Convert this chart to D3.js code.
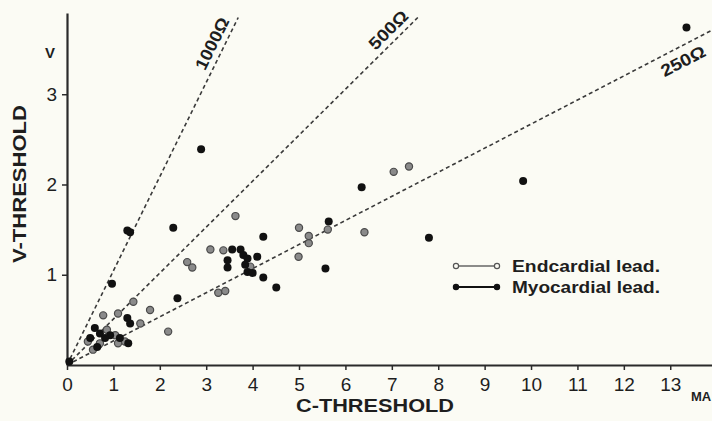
<!DOCTYPE html>
<html>
<head>
<meta charset="utf-8">
<script src="https://cdn.jsdelivr.net/npm/d3@7"></script>
<style>
  body { margin: 0; background: #fbfbf4; }
  svg { display: block; }
  text { fill: #1e1e1e; }
</style>
</head>
<body>
<svg></svg>
<script>
var width = 712;
var height = 421;

// C-threshold (mA), V-threshold (V)
var endocardial = [
  [3.63,1.65],[5.0,1.52],[5.21,1.43],[5.21,1.35],[5.62,1.50],[4.99,1.20],
  [6.41,1.47],[7.04,2.14],[7.37,2.20],[3.09,1.28],[3.37,1.27],[2.59,1.14],
  [2.70,1.08],[3.26,0.80],[3.41,0.82],[3.95,1.09],[1.79,0.61],[1.43,0.70],
  [0.78,0.55],[2.18,0.37],[1.58,0.46],[0.45,0.26],[0.86,0.39],[1.04,0.33],
  [1.10,0.24],[1.25,0.26],[0.71,0.24],[0.56,0.17],[1.10,0.57]
];
var myocardial = [
  [0.05,0.04],[13.35,3.74],[2.89,2.39],[1.30,1.49],[1.36,1.47],[2.29,1.52],
  [0.97,0.90],[2.38,0.74],[4.23,1.42],[4.23,0.97],[4.51,0.86],[6.35,1.97],
  [5.64,1.59],[5.57,1.07],[7.80,1.41],[9.83,2.04],[3.56,1.28],[3.74,1.28],
  [3.80,1.22],[3.89,1.18],[4.10,1.20],[3.46,1.16],[3.46,1.08],[3.84,1.11],
  [3.89,1.03],[4.0,1.02],[1.30,0.52],[1.36,0.46],[0.60,0.41],[0.71,0.35],
  [0.50,0.30],[0.93,0.33],[1.14,0.30],[1.32,0.24],[0.65,0.20],[0.82,0.30]
];
var resistLabels = ["1000\u03A9", "500\u03A9", "250\u03A9"];
var resistEnds = [[3.69,3.85],[7.56,3.85],[13.9,3.71]];
var xTicks = d3.range(0, 14);
var yTicks = [1, 2, 3];
var legendLabels = ["Endcardial lead.", "Myocardial lead."];

var xScale = d3.scaleLinear().domain([0, 13.9]).range([67, 712]);
var yScale = d3.scaleLinear().domain([0, 3.9]).range([365, 13]);

var svg = d3.select("svg").attr("width", width).attr("height", height);

svg.append("rect").attr("width", width).attr("height", height).attr("fill", "#fbfbf4");

// resistance lines
var labelLayout = [{t: 0.91, off: -12, w: 56}, {t: 0.94, off: -12, w: 48}, {t: 0.945, off: 14, w: 48}];
resistEnds.forEach(function(e, i) {
  var x0 = xScale(0), y0 = yScale(0), x1 = xScale(e[0]), y1 = yScale(e[1]);
  svg.append("line")
      .attr("x1", x0).attr("y1", y0).attr("x2", x1).attr("y2", y1)
      .attr("stroke", "#3a3a3a")
      .attr("stroke-width", 1.6)
      .attr("stroke-dasharray", "4,3");
  var dx = x1 - x0, dy = y1 - y0, len = Math.sqrt(dx*dx + dy*dy);
  var ang = Math.atan2(dy, dx) * 180 / Math.PI;
  var L = labelLayout[i];
  var cx = x0 + dx * L.t + (-dy / len) * L.off;
  var cy = y0 + dy * L.t + (dx / len) * L.off;
  svg.append("text")
      .attr("transform", "translate(" + cx + "," + cy + ") rotate(" + ang + ")")
      .attr("dy", "0.35em")
      .style("text-anchor", "middle")
      .style("font-family", "'Liberation Sans Narrow', 'Liberation Sans', sans-serif")
      .style("font-weight", "bold")
      .style("font-size", "17px")
      .attr("textLength", L.w)
      .attr("lengthAdjust", "spacingAndGlyphs")
      .text(resistLabels[i]);
});

// axes
var xAxis = d3.axisBottom(xScale).tickValues(xTicks).tickSize(5).tickSizeOuter(0).tickPadding(8);
var yAxis = d3.axisLeft(yScale).tickValues(yTicks).tickFormat(d3.format("d"))
                .tickSize(5).tickSizeOuter(0).tickPadding(5);

var gx = svg.append("g").attr("transform", "translate(0," + yScale(0) + ")").call(xAxis);
var gy = svg.append("g").attr("transform", "translate(" + xScale(0) + ",0)").call(yAxis);

[gx, gy].forEach(function(g) {
  g.select(".domain").attr("stroke", "#2a2a2a").attr("stroke-width", 2.2);
  g.selectAll(".tick line").attr("stroke", "#2a2a2a").attr("stroke-width", 1.5);
  g.selectAll(".tick text")
      .style("font-family", "'Liberation Sans Narrow', 'Liberation Sans', sans-serif")
      .style("font-size", "19px")
      .attr("fill", "#2a2a2a");
});

// points
svg.append("g").selectAll("circle")
  .data(endocardial)
  .enter()
  .append("circle")
    .attr("cx", d => xScale(d[0]))
    .attr("cy", d => yScale(d[1]))
    .attr("r", 3.6)
    .attr("fill", "#8a8a8a")
    .attr("stroke", "#4a4a4a")
    .attr("stroke-width", 1.2);

svg.append("g").selectAll("circle")
  .data(myocardial)
  .enter()
  .append("circle")
    .attr("cx", d => xScale(d[0]))
    .attr("cy", d => yScale(d[1]))
    .attr("r", 4)
    .attr("fill", "#111");

// legend
legendLabels.forEach(function(lbl, i) {
  var y = 266 + i * 21;
  var g = svg.append("g");
  g.append("line").attr("x1", 456).attr("x2", 497).attr("y1", y).attr("y2", y)
      .attr("stroke", i === 0 ? "#666" : "#111").attr("stroke-width", i === 0 ? 1.4 : 2);
  [456, 497].forEach(function(x) {
    g.append("circle").attr("cx", x).attr("cy", y).attr("r", 2.6)
        .attr("fill", i === 0 ? "#fbfbf4" : "#111")
        .attr("stroke", i === 0 ? "#555" : "#111").attr("stroke-width", 1.2);
  });
  g.append("text")
      .attr("x", 512).attr("y", y).attr("dy", "0.35em")
      .style("font-family", "'Liberation Sans', sans-serif")
      .style("font-weight", "bold")
      .style("font-size", "16px")
      .attr("textLength", 148)
      .attr("lengthAdjust", "spacingAndGlyphs")
      .text(lbl);
});

// axis titles
svg.append("text")
    .attr("x", 375).attr("y", 412)
    .style("text-anchor", "middle")
    .style("font-family", "'Liberation Sans', sans-serif")
    .style("font-weight", "bold")
    .style("font-size", "19px")
    .attr("textLength", 158)
    .attr("lengthAdjust", "spacingAndGlyphs")
    .text("C-THRESHOLD");

svg.append("text")
    .attr("x", 701).attr("y", 401)
    .style("text-anchor", "middle")
    .style("font-family", "'Liberation Sans', sans-serif")
    .style("font-weight", "bold")
    .style("font-size", "13px")
    .text("MA");

svg.append("text")
    .attr("transform", "rotate(-90)")
    .attr("x", -184).attr("y", 26)
    .style("text-anchor", "middle")
    .style("font-family", "'Liberation Sans', sans-serif")
    .style("font-weight", "bold")
    .style("font-size", "19px")
    .attr("textLength", 158)
    .attr("lengthAdjust", "spacingAndGlyphs")
    .text("V-THRESHOLD");

svg.append("text")
    .attr("x", 50).attr("y", 58)
    .style("text-anchor", "middle")
    .style("font-family", "'Liberation Sans', sans-serif")
    .style("font-weight", "bold")
    .style("font-size", "15px")
    .text("V");
</script>
</body>
</html>
